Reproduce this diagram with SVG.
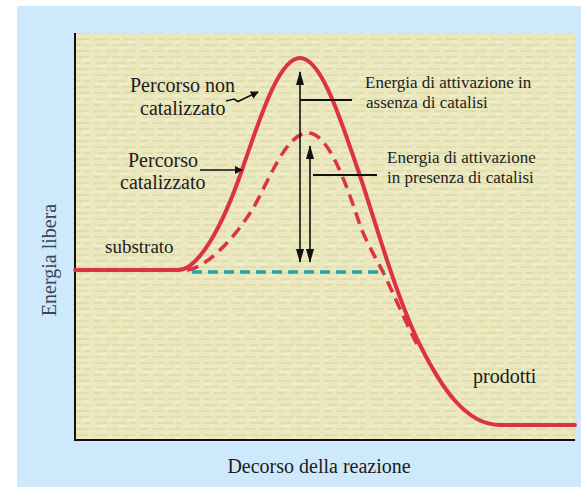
<svg xmlns="http://www.w3.org/2000/svg" width="581" height="487" viewBox="0 0 581 487">
  <style>
    .t { font-family: "Liberation Serif", "Times New Roman", serif; fill: #1c1c1c; }
    .lbl { font-size: 20px; }
    .ann { font-size: 17px; }
    .ax { font-size: 20px; fill: #3a4656; }
    .curve { fill: none; stroke: #dc3146; stroke-width: 4; stroke-linecap: round; stroke-linejoin: round; }
    .dash { fill: none; stroke: #dc3146; stroke-width: 3.5; stroke-dasharray: 12 7; }
    .cyan { fill: none; stroke: #27a3a4; stroke-width: 3.5; stroke-dasharray: 10 6; }
    .blk { stroke: #111; stroke-width: 1.6; fill: none; }
    .blk2 { stroke: #111; stroke-width: 2; fill: none; }
  </style>
  <defs>
    <marker id="ah" viewBox="0 0 10 10" refX="9" refY="5" markerWidth="8" markerHeight="8" markerUnits="userSpaceOnUse" orient="auto-start-reverse">
      <path d="M0,0 L10,5 L0,10 z" fill="#111"/>
    </marker>
    <marker id="av" viewBox="0 0 14 8" refX="13" refY="4" markerWidth="14" markerHeight="8" markerUnits="userSpaceOnUse" orient="auto-start-reverse">
      <path d="M0,0 L14,4 L0,8 z" fill="#111"/>
    </marker>
    <pattern id="tex" width="46" height="18" patternUnits="userSpaceOnUse">
      <rect width="46" height="18" fill="#ebe7bf"/>
      <path d="M2,3 h14 M20,3 h8 M31,3 h12 M5,9 h10 M19,9 h16 M38,9 h6 M1,15 h9 M14,15 h12 M30,15 h13" stroke="#d6d596" stroke-width="1.2"/>
      <path d="M17,6 h9 M3,12 h12 M27,12 h9 M36,6 h8" stroke="#f6f4e0" stroke-width="1.2"/>
    </pattern>
  </defs>

  <rect x="0" y="0" width="581" height="487" fill="#ffffff"/>
  <rect x="17" y="6" width="564" height="481" fill="#cde9fb"/>

  <g id="plot">
    <rect x="75" y="33" width="500" height="407" fill="url(#tex)"/>
    <path class="blk2" d="M75,33 V440 H575"/>
  </g>

  <g id="curves">
    <path id="uncatalyzed" class="curve" d="M75,270 L178,270 C198,270 222,228 242,170 C258,124 278,58 300,58 C322,58 342,124 358,170 C372,210 395,295 420,345 C440,385 465,425 500,425 L575,425"/>
    <path id="catalyzed" class="dash" d="M187,270 C205,268 232,242 252,210 C268,184 285,133 308,133 C328,133 345,180 360,225 C364,237 374,255 383,272 C393,292 405,322 420,350"/>
    <path id="baseline" class="cyan" d="M192,272 H385"/>
  </g>

  <g id="connectors">
    <path class="blk" d="M300,72 V262" marker-start="url(#av)" marker-end="url(#av)"/>
    <path class="blk" d="M310,146 V262" marker-start="url(#av)" marker-end="url(#av)"/>
    <path class="blk2" d="M300,100 H352"/>
    <path class="blk2" d="M313,175 H377"/>
    <path class="blk" d="M226,101 L234,99 L238,101.5 L258,92" marker-end="url(#ah)"/>
    <path class="blk" d="M200,170 H242" marker-end="url(#ah)"/>
  </g>

  <g id="label-noncat">
    <text class="t lbl" x="130" y="92">Percorso non</text>
    <text class="t lbl" x="140" y="115">catalizzato</text>
  </g>
  <g id="label-cat">
    <text class="t lbl" x="128" y="167">Percorso</text>
    <text class="t lbl" x="120" y="189">catalizzato</text>
  </g>
  <g id="label-substrato">
    <text class="t" font-size="19" x="105" y="253">substrato</text>
  </g>
  <g id="label-prodotti">
    <text class="t lbl" x="473" y="383">prodotti</text>
  </g>
  <g id="label-ea-absent">
    <text class="t ann" x="365" y="88">Energia di attivazione in</text>
    <text class="t ann" x="366" y="108">assenza di catalisi</text>
  </g>
  <g id="label-ea-present">
    <text class="t ann" x="387" y="163">Energia di attivazione</text>
    <text class="t ann" x="387" y="183">in presenza di catalisi</text>
  </g>
  <g id="axis-labels">
    <text class="t ax" transform="translate(56,260) rotate(-90)" text-anchor="middle">Energia libera</text>
    <text class="t" font-size="20" x="319" y="473" text-anchor="middle">Decorso della reazione</text>
  </g>
</svg>
